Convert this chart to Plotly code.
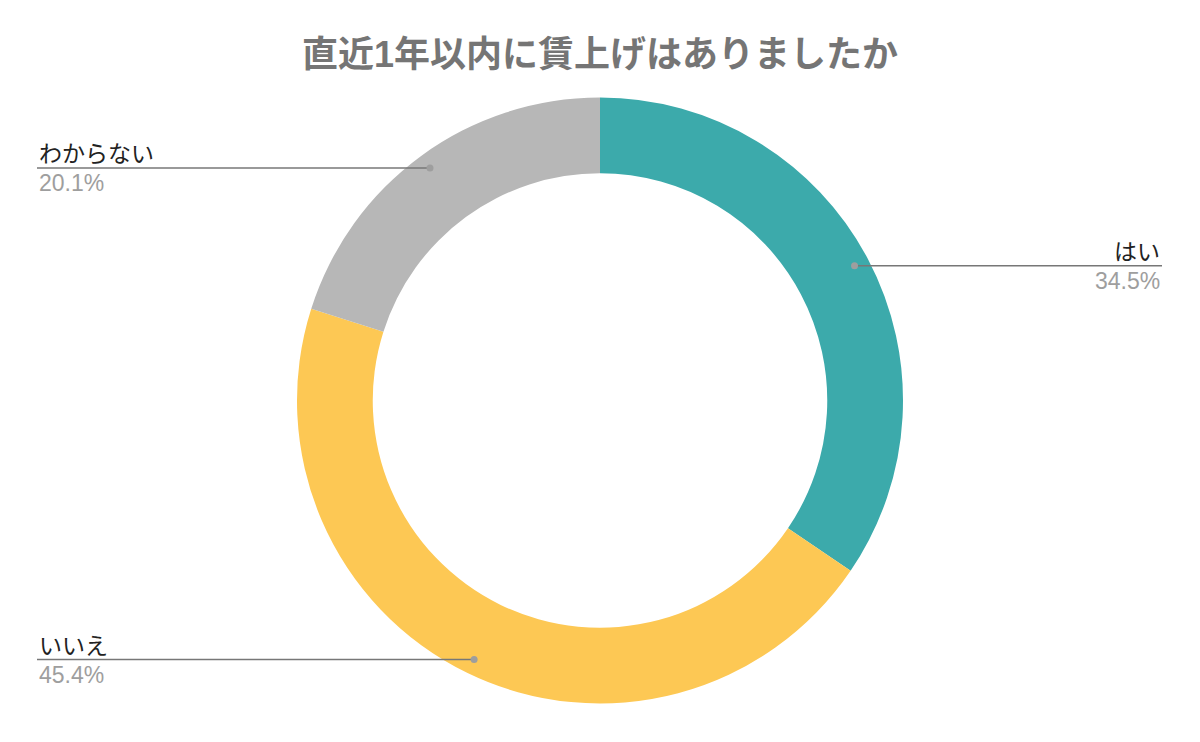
import numpy as np
import plotly.graph_objects as go

title = "直近1年以内に賃上げはありましたか"
labels = ["はい", "いいえ", "わからない"]
values = [34.5, 45.4, 20.1]
colors = ["#3caaab", "#fdc854", "#b7b7b7"]

W, H = 1200, 742
off = 8               # page body margin shifts the figure by 8px
cx, cy = 600 - off, 400.5 - off   # pie centre in figure px
R = 303               # outer radius in px
r_dot = 288           # radius of leader-line dots
left_x, right_x = 37 - off, 1162 - off

fig = go.Figure()

# --- donut ---
fig.add_trace(
    go.Pie(
        labels=labels,
        values=values,
        hole=0.75,
        sort=False,
        direction="clockwise",
        rotation=0,
        marker=dict(colors=colors, line=dict(width=0)),
        textinfo="none",
        hoverinfo="label+percent",
        showlegend=False,
        domain=dict(
            x=[(cx - R) / W, (cx + R) / W],
            y=[(H - cy - R) / H, (H - cy + R) / H],
        ),
    )
)

# invisible cartesian trace so the pixel axes exist
fig.add_trace(go.Scatter(x=[0, W], y=[0, H], mode="none", hoverinfo="skip", showlegend=False))

# --- leader lines, positioned from the slice mid-angles ---
vals = np.array(values)
frac = vals / vals.sum()
mid = (np.cumsum(frac) - frac / 2) * 2 * np.pi
dot_x = cx + r_dot * np.sin(mid)
dot_y = cy - r_dot * np.cos(mid)

for i, lab in enumerate(labels):
    on_right = dot_x[i] > cx
    end_x = right_x if on_right else left_x
    fig.add_shape(
        type="line", xref="x", yref="y", layer="above",
        x0=dot_x[i], x1=end_x, y0=dot_y[i], y1=dot_y[i],
        line=dict(color="#777777", width=1.5),
    )
    fig.add_shape(
        type="circle", xref="x", yref="y", layer="above",
        x0=dot_x[i] - 3.5, x1=dot_x[i] + 3.5,
        y0=dot_y[i] - 3.5, y1=dot_y[i] + 3.5,
        fillcolor="#9e9e9e", line=dict(width=0),
    )
    anchor = "right" if on_right else "left"
    fig.add_annotation(
        x=end_x, y=dot_y[i], xref="x", yref="y",
        text=lab, showarrow=False,
        xanchor=anchor, yanchor="bottom", yshift=-1,
        font=dict(size=23, color="#222222"),
    )
    fig.add_annotation(
        x=end_x, y=dot_y[i], xref="x", yref="y",
        text=f"{values[i]:.1f}%", showarrow=False,
        xanchor=anchor, yanchor="top", yshift=0,
        font=dict(size=23, color="#9e9e9e"),
    )

fig.update_xaxes(range=[0, W], visible=False, fixedrange=True)
fig.update_yaxes(range=[H, 0], visible=False, fixedrange=True)

fig.update_layout(
    width=W,
    height=H,
    margin=dict(l=0, r=0, t=0, b=0),
    paper_bgcolor="white",
    plot_bgcolor="rgba(0,0,0,0)",
    font=dict(family="Arial, 'Liberation Sans', 'Noto Sans CJK JP', sans-serif"),
    title=dict(
        text=f"<b>{title}</b>",
        x=(600 - off) / W,
        xanchor="center",
        y=1 - (54 - off) / H,
        yanchor="middle",
        font=dict(size=36, color="#757575"),
    ),
)

fig.write_html("out.html")
